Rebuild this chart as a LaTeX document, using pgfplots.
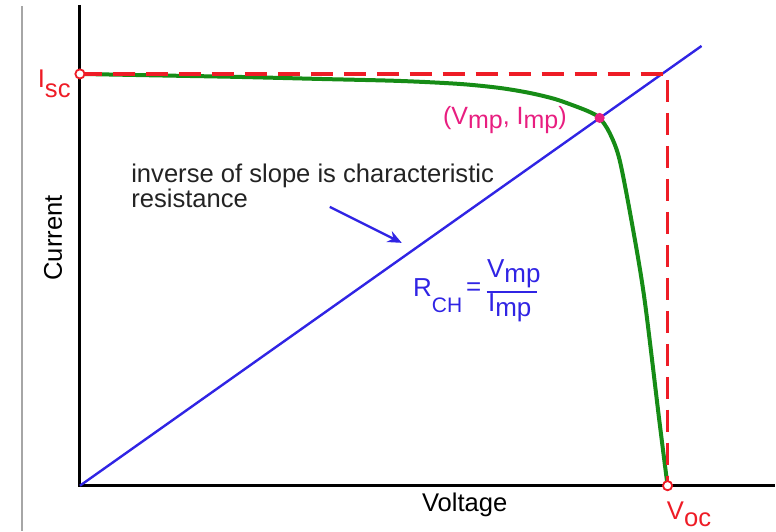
\documentclass[border=0pt]{standalone}
\usepackage{pgfplots}
\pgfplotsset{compat=1.18}
\usepackage{fontspec}
\setmainfont{Liberation Sans}
\usetikzlibrary{arrows.meta}

\definecolor{ivred}{RGB}{238,28,38}
\definecolor{ivgreen}{RGB}{22,140,22}
\definecolor{ivblue}{RGB}{48,36,228}
\definecolor{ivmag}{RGB}{232,30,128}
\definecolor{ivtext}{RGB}{35,35,35}

\newcommand{\fs}[1]{\fontsize{#1}{#1}\selectfont}

\begin{document}
\begin{tikzpicture}
\begin{axis}[
    scale only axis,
    width=388pt, height=265.5pt,
    xmin=0, xmax=776, ymin=0, ymax=531,
    hide axis,
    clip=false,
  ]
  % keep the whole canvas in the bounding box
  \addplot[draw=none] coordinates {(0,0) (776,531)};
  % frame line of the screenshot
  \addplot[gray!70, line width=0.7pt] coordinates {(22,0) (22,525)};
  % axes
  \addplot[black, line width=1.5pt] coordinates {(80,526) (80,45) (775,45)};

  % characteristic resistance line
  \addplot[ivblue, line width=1.2pt] coordinates {(80,45) (702,485)};

  % I-V curve
  \addplot[ivgreen, line width=2pt, smooth, tension=0.5] coordinates {
    (80,457) (160,455.5) (240,454) (320,452) (400,450) (460,447)
    (500,443) (530,438) (555,432) (575,425) (590,419) (600,413)
    (610,398) (620,371) (633,304) (645,231) (660,108) (668,45)
  };

  % Isc / Voc rectangle
  \addplot[ivred, line width=1.8pt, dash pattern=on 11pt off 5.5pt, line join=miter]
    coordinates {(80,457) (668,457) (668,45)};

  % marks
  \addplot[only marks, mark=*, mark size=2.3pt, ivred, line width=0.9pt,
    mark options={fill=white}] coordinates {(80,457) (668,45)};
  \addplot[only marks, mark=*, mark size=2.3pt, ivmag] coordinates {(600,413)};

  % arrow to the line
  \addplot[ivblue, line width=1.2pt, -{Stealth[length=7pt,width=6pt]}]
    coordinates {(330,324) (402,288)};

  % labels
  \node[ivred, inner sep=0pt, anchor=base east, font=\fs{12.8}] at (axis cs:71,443)
    {I\raisebox{-5pt}{sc}};
  \node[ivred, inner sep=0pt, anchor=base west, font=\fs{12.8}] at (axis cs:667,11)
    {V\raisebox{-3.5pt}{oc}};
  \node[ivmag, inner sep=0pt, anchor=base west, font=\fs{12.5}] at (axis cs:443,406)
    {(V\raisebox{-2pt}{mp}, I\raisebox{-2pt}{mp})};
  \node[ivtext, inner sep=0pt, anchor=base west, font=\fs{12.8}] at (axis cs:131,348)
    {inverse of slope is characteristic};
  \node[ivtext, inner sep=0pt, anchor=base west, font=\fs{12.8}] at (axis cs:131,323)
    {resistance};

  \node[ivblue, inner sep=0pt, anchor=base west, font=\fs{13}] at (axis cs:413,234)
    {R\raisebox{-8pt}{\fs{10.5}CH}};
  \node[ivblue, inner sep=0pt, font=\fs{13}] at (axis cs:474,242) {=};
  \node[ivblue, inner sep=0pt, anchor=base west, font=\fs{13}] at (axis cs:487,253)
    {V\raisebox{-2.5pt}{mp}};
  \node[ivblue, inner sep=0pt] at (axis cs:512,239) {\rule{25pt}{1.3pt}};
  \node[ivblue, inner sep=0pt, anchor=base west, font=\fs{13}] at (axis cs:488,219)
    {I\raisebox{-2.5pt}{mp}};

  \node[black, inner sep=0pt, rotate=90, font=\fs{12.8}] at (axis cs:53,293) {Current};
  \node[black, inner sep=0pt, anchor=base, font=\fs{12.8}] at (axis cs:465,19) {Voltage};
\end{axis}
\end{tikzpicture}
\end{document}
